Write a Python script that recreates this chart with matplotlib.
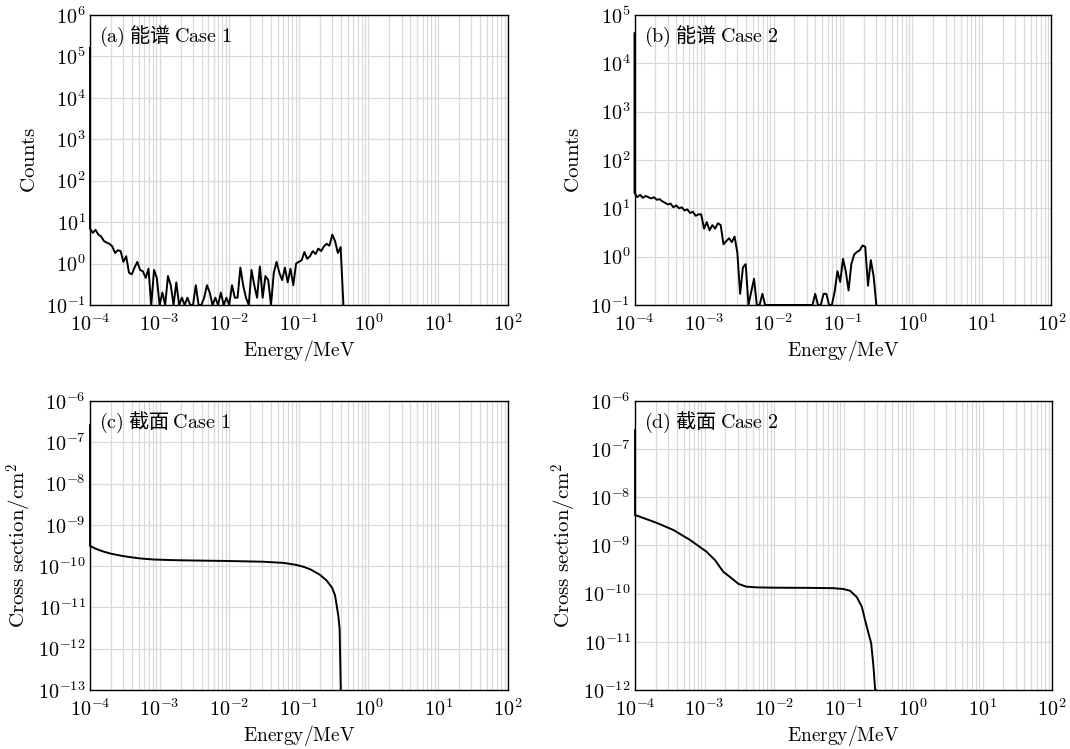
import numpy as np
import matplotlib
matplotlib.use('Agg')
import matplotlib.pyplot as plt
from matplotlib.ticker import LogLocator, FuncFormatter, NullLocator

plt.rcParams['mathtext.fontset'] = 'cm'
plt.rcParams['font.family'] = ['DejaVu Serif', 'Noto Sans CJK SC']

# log energy grid, 25 bins per decade
mantissa = [1.000, 1.096, 1.202, 1.318, 1.445, 1.585, 1.738, 1.905, 2.089, 2.291,
            2.512, 2.754, 3.020, 3.311, 3.631, 3.981, 4.365, 4.786, 5.248, 5.754,
            6.310, 6.918, 7.586, 8.318, 9.120]
decades = [-4, -3, -2, -1]
grid = [m * 10.0 ** d for d in decades for m in mantissa]

# (a) spectrum case 1
peak_a = 1.6e5
counts_a = [7.0, 5.5, 6.5, 5.0, 4.5, 3.5, 3.2, 3.0, 2.6, 1.8, 2.1, 2.0, 1.1, 1.5, 0.6,
            0.55, 0.8, 1.1, 0.7, 0.65, 0.45, 0.75, 0, 0.7, 0.45,
            0, 0.2, 0, 0.5, 0.3, 0, 0.35, 0, 0.15, 0, 0.15, 0, 0, 0.3, 0,
            0, 0.15, 0.3, 0.2, 0, 0.15, 0, 0.2, 0, 0.15,
            0, 0.3, 0.15, 0.15, 0.8, 0.3, 0.15, 0, 0.7, 0.3, 0.15, 0.85,
            0.15, 0.5, 0.4, 0, 0.6, 1.1, 0.6, 0.4, 0.8, 0.35, 0.75, 0.3, 1.0, 1.1,
            1.2, 1.9, 1.3, 1.5, 2.0, 1.7, 2.3, 2.0, 2.6, 3.0, 2.7, 5.0, 3.5, 1.8, 2.5,
            0]

# (b) spectrum case 2
peak_b = 4.2e4
counts_b = [21, 17, 19, 16.5, 18, 17, 16, 17, 15, 15.5, 14, 13, 12, 12.5, 10.5,
            11.5, 10, 10.5, 9.0, 9.5, 8.0, 8.5, 7.0, 7.5, 7.5,
            3.8, 5.2, 3.5, 4.5, 3.8, 4.9, 4.5, 1.8, 2.1, 2.4, 2.0, 2.6,
            1.2, 0.17, 0.6, 0.7, 0, 0.19, 0.35, 0, 0, 0.17, 0, 0, 0,
            0, 0, 0, 0, 0, 0, 0, 0, 0, 0, 0, 0, 0, 0,
            0, 0.17, 0, 0, 0.17, 0.17, 0, 0, 0.19, 0.5, 0.3, 0.9, 0.5, 0.2, 0.7,
            1.1, 1.25, 1.35, 1.7, 1.6, 0.25, 0.85, 0.4, 0]

# (c) cross section case 1
energy_c = [1e-4, 1e-4, 1.2e-4, 1.5e-4, 2e-4, 3e-4, 5e-4, 8e-4, 1.5e-3, 3e-3, 1e-2,
            3e-2, 6e-2, 0.09, 0.12, 0.15, 0.2, 0.25, 0.3, 0.33, 0.35, 0.37, 0.385, 0.40]
sigma_c = [2.6e-7, 3.1e-10, 2.65e-10, 2.3e-10, 2.0e-10, 1.75e-10, 1.55e-10, 1.45e-10,
           1.4e-10, 1.37e-10, 1.33e-10, 1.28e-10, 1.2e-10, 1.08e-10, 9.5e-11, 8.2e-11,
           6.2e-11, 4.5e-11, 3.0e-11, 2.0e-11, 1.1e-11, 6e-12, 3e-12, 1e-14]

# (d) cross section case 2
energy_d = [1e-4, 1e-4, 2.05e-4, 3.56e-4, 6.2e-4, 1.07e-3, 1.41e-3, 1.86e-3, 2.46e-3,
            3.07e-3, 3.96e-3, 5.6e-3, 1e-2, 3e-2, 7.1e-2, 0.099, 0.124, 0.155, 0.183,
            0.21, 0.235, 0.25, 0.27, 0.285, 0.29]
sigma_d = [2.5e-7, 4.3e-9, 2.95e-9, 2.1e-9, 1.3e-9, 7.4e-10, 5.0e-10, 2.85e-10, 2.08e-10,
           1.6e-10, 1.4e-10, 1.35e-10, 1.33e-10, 1.32e-10, 1.3e-10, 1.25e-10, 1.15e-10,
           8.5e-11, 5.4e-11, 2.4e-11, 1.3e-11, 9.3e-12, 3e-12, 5e-13, 1e-14]


def spectrum(peak, counts):
    e = grid[:len(counts)]
    return [e[0]] + list(e), [peak] + list(counts)


def draw(ax, x, y, ylim):
    # values under the axis floor are drawn on the floor, like pgfplots does
    y = np.maximum(np.array(y, dtype=float), ylim[0])
    ax.plot(x, y, color='black', lw=1.4, zorder=3, clip_on=False)


def style(ax, ylim, ylabel, tag, ylabelpad):
    ax.set_xscale('log')
    ax.set_yscale('log')
    ax.set_xlim(1e-4, 1e2)
    ax.set_ylim(*ylim)
    ax.xaxis.set_major_locator(LogLocator(base=10, numticks=20))
    ax.xaxis.set_minor_locator(LogLocator(base=10, subs=range(2, 10), numticks=100))
    ax.yaxis.set_major_locator(LogLocator(base=10, numticks=20))
    ax.yaxis.set_minor_locator(NullLocator())
    fmt = FuncFormatter(lambda v, p: r'$10^{%d}$' % int(round(np.log10(v))))
    ax.xaxis.set_major_formatter(fmt)
    ax.yaxis.set_major_formatter(fmt)
    ax.grid(which='major', color='#d9d9d9', lw=0.9)
    ax.xaxis.grid(which='minor', color='#d9d9d9', lw=0.9)
    ax.set_axisbelow(True)
    ax.tick_params(which='both', length=0, labelsize=14.5)
    ax.tick_params(axis='x', pad=6)
    ax.tick_params(axis='y', pad=3)
    for s in ax.spines.values():
        s.set_linewidth(1.0)
    ax.set_xlabel(r'$\mathrm{Energy/MeV}$', fontsize=14, labelpad=2)
    ax.set_ylabel(ylabel, fontsize=15, labelpad=ylabelpad)
    ax.text(0.022, 0.925, tag, transform=ax.transAxes, fontsize=14.5, va='center',
            family=['Noto Sans CJK SC', 'DejaVu Sans'])


fig = plt.figure(figsize=(10.7, 7.49), dpi=100)
ax_a = fig.add_axes([0.0841, 0.5928, 0.3904, 0.3872])
ax_b = fig.add_axes([0.5930, 0.5928, 0.3897, 0.3872])
ax_c = fig.add_axes([0.0841, 0.0788, 0.3904, 0.3858])
ax_d = fig.add_axes([0.5935, 0.0788, 0.3897, 0.3858])

x, y = spectrum(peak_a, counts_a)
draw(ax_a, x, y, (1e-1, 1e6))
style(ax_a, (1e-1, 1e6), r'$\mathrm{Counts}$', r'$\mathrm{(a)}$ 能谱 $\mathrm{Case\ 1}$', 5)

x, y = spectrum(peak_b, counts_b)
draw(ax_b, x, y, (1e-1, 1e5))
style(ax_b, (1e-1, 1e5), r'$\mathrm{Counts}$', r'$\mathrm{(b)}$ 能谱 $\mathrm{Case\ 2}$', 5)

draw(ax_c, energy_c, sigma_c, (1e-13, 1e-6))
style(ax_c, (1e-13, 1e-6), r'$\mathrm{Cross\ section/cm}^2$', r'$\mathrm{(c)}$ 截面 $\mathrm{Case\ 1}$', 3)

draw(ax_d, energy_d, sigma_d, (1e-12, 1e-6))
style(ax_d, (1e-12, 1e-6), r'$\mathrm{Cross\ section/cm}^2$', r'$\mathrm{(d)}$ 截面 $\mathrm{Case\ 2}$', 3)

fig.savefig('out.png', dpi=100)
